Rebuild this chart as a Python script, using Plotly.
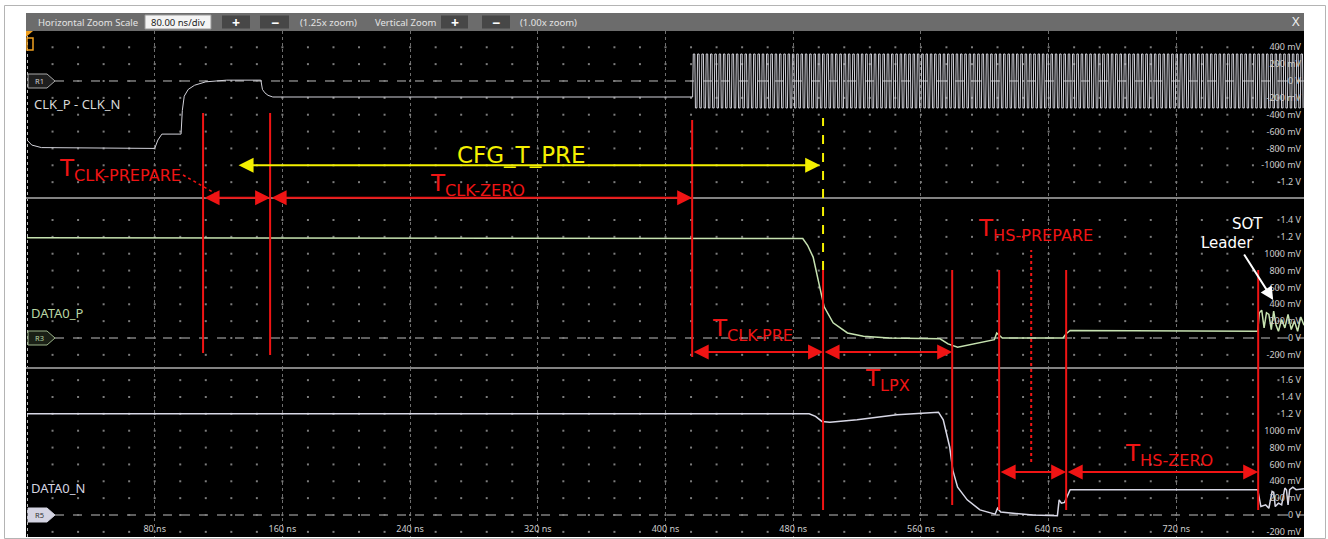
import plotly.graph_objects as go

W, H = 1328, 539

# ---------------- waveform data (time in ns, level in V) ----------------
# CLK_P - CLK_N before the HS clock burst
clk_t = [0, 3, 9, 80, 82, 84.5, 96.5, 97.3, 98.5, 101, 105, 112, 125, 146.5, 147.5, 149, 151, 154, 417]
clk_v = [-0.70, -0.76, -0.79, -0.80, -0.70, -0.63, -0.63, -0.35, -0.18, -0.10, -0.05, -0.01, 0.01, 0.01, -0.10, -0.14, -0.17, -0.19, -0.19]
# HS clock burst on the clock lane
clk_burst_start_ns = 417.0
clk_burst_end_ns = 800.0
clk_period_ns = 2.7
clk_edge_ns = 0.4
clk_high_v = 0.32
clk_low_v = -0.32

# DATA0_P
dp_t = [0, 486, 489, 492.5, 497, 499.4, 505, 514, 524, 540, 572, 577, 583, 595, 606, 607.5, 609, 611, 649, 651, 653.5, 771,
        772, 773.5, 775, 776.5, 778, 779.5, 781, 782.5, 784, 786, 788, 790, 792, 794, 796, 798, 800]
dp_v = [1.19, 1.18, 1.10, 0.96, 0.57, 0.37, 0.18, 0.06, 0.02, 0.0, -0.01, -0.07, -0.11, -0.06, -0.02, 0.06, 0.03, 0.0, 0.0, 0.05, 0.09, 0.08,
        0.30, 0.33, 0.12, 0.30, 0.28, 0.10, 0.32, 0.15, 0.08, 0.22, 0.12, 0.28, 0.10, 0.20, 0.08, 0.25, 0.15]

# DATA0_N
dn_t = [0, 490, 494, 498, 503, 520, 545, 566, 571, 574, 578, 580, 583, 589, 597, 606.5, 608, 610, 630, 645.5, 646.6, 648, 650, 653.5, 771,
        773, 776, 778, 780, 781, 782, 784, 786, 788, 789, 790, 791, 793, 795, 800]
dn_v = [1.20, 1.20, 1.17, 1.11, 1.10, 1.13, 1.19, 1.22, 1.22, 1.13, 0.81, 0.53, 0.33, 0.18, 0.06, 0.01, 0.08, 0.035, 0.0, -0.01, 0.18, 0.14, 0.15, 0.30, 0.30,
        0.10, 0.12, 0.08, 0.28, 0.27, 0.10, 0.14, 0.12, 0.32, 0.30, 0.12, 0.30, 0.33, 0.30, 0.31]

# timing cursors (ns)
t_clk_prepare_start = 110.3
t_clk_prepare_end = 152.3
t_clk_zero_end = 416.7
t_clk_pre_end = 498.7
t_lpx_end = 579.6
t_hs_prepare_start = 609.0
t_hs_prepare_mid = 629.1
t_hs_prepare_end = 651.0
t_hs_zero_end = 771.3
t_cfg_pre_start = 131.6
t_cfg_pre_end = 496.9

# axis ticks
x_ticks = [80, 160, 240, 320, 400, 480, 560, 640, 720]
x_tick_text = ["80 ns", "160 ns", "240 ns", "320 ns", "400 ns", "480 ns", "560 ns", "640 ns", "720 ns"]
clk_ticks = [0.4, 0.2, 0.0, -0.2, -0.4, -0.6, -0.8, -1.0, -1.2]
clk_tick_text = ["400 mV", "200 mV", "0 V", "-200 mV", "-400 mV", "-600 mV", "-800 mV", "-1000 mV", "-1.2 V"]
dp_ticks = [1.4, 1.2, 1.0, 0.8, 0.6, 0.4, 0.2, 0.0, -0.2]
dp_tick_text = ["1.4 V", "1.2 V", "1000 mV", "800 mV", "600 mV", "400 mV", "200 mV", "0 V", "-200 mV"]
dn_ticks = [1.6, 1.4, 1.2, 1.0, 0.8, 0.6, 0.4, 0.2, 0.0, -0.2]
dn_tick_text = ["1.6 V", "1.4 V", "1.2 V", "1000 mV", "800 mV", "600 mV", "400 mV", "200 mV", "0 V", "-200 mV"]


# ---------------- helpers: screen pixels -> paper ----------------
def fx(p):
    return p / W


def fy(p):
    return 1 - p / H


RED = "#f01414"
YEL = "#f4f000"
TICK_FONT = dict(family="Noto Sans", size=9, color="#cccccc")

# build the HS clock burst from its measured period and levels
burst_t = [clk_t[-1]]
burst_v = [clk_v[-1]]
prev = clk_v[-1]
level = clk_high_v
t = clk_burst_start_ns
while t < clk_burst_end_ns:
    burst_t += [t, t + clk_edge_ns]
    burst_v += [prev, level]
    prev = level
    level = clk_low_v if level == clk_high_v else clk_high_v
    t += clk_period_ns / 2
clk_all_t = clk_t + burst_t[1:]
clk_all_v = clk_v + burst_v[1:]

fig = go.Figure()

# graticule dots every 16 ns on each voltage division
dot_x = list(range(16, 800, 16))
for yname, ticks in (("y", clk_ticks), ("y2", dp_ticks), ("y3", dn_ticks)):
    xs, ys = [], []
    for v in ticks:
        for tx in dot_x:
            xs.append(tx)
            ys.append(v)
    fig.add_trace(go.Scatter(x=xs, y=ys, mode="markers", xaxis="x", yaxis=yname,
                             marker=dict(size=2, color="#7c7c7c", symbol="square"),
                             hoverinfo="skip", showlegend=False))

fig.add_trace(go.Scatter(x=clk_all_t, y=clk_all_v, mode="lines", xaxis="x", yaxis="y",
                         line=dict(color="#d2d2da", width=1), hoverinfo="skip", showlegend=False))
fig.add_trace(go.Scatter(x=dp_t, y=dp_v, mode="lines", xaxis="x", yaxis="y2",
                         line=dict(color="#c6e2b0", width=1.5), hoverinfo="skip", showlegend=False))
fig.add_trace(go.Scatter(x=dn_t, y=dn_v, mode="lines", xaxis="x", yaxis="y3",
                         line=dict(color="#d8d8e6", width=1.5), hoverinfo="skip", showlegend=False))

shapes = []
# scope screen background and frame
shapes.append(dict(type="rect", xref="paper", yref="paper", x0=fx(26), x1=fx(1304), y0=fy(537), y1=fy(31),
                   fillcolor="#000000", line=dict(width=0), layer="below"))
shapes.append(dict(type="rect", xref="paper", yref="paper", x0=fx(4.5), x1=fx(1325.5), y0=fy(538.5), y1=fy(5.5),
                   fillcolor="rgba(0,0,0,0)", line=dict(color="#b4b4b4", width=1), layer="below"))
# toolbar
shapes.append(dict(type="rect", xref="paper", yref="paper", x0=fx(26), x1=fx(1304), y0=fy(31), y1=fy(13),
                   fillcolor="#6c6c6c", line=dict(width=0)))
shapes.append(dict(type="rect", xref="paper", yref="paper", x0=fx(145), x1=fx(211), y0=fy(29), y1=fy(15),
                   fillcolor="#f4f4f4", line=dict(color="#9a9a9a", width=1)))
for a, b in ((222, 250), (260, 289), (441, 468), (482, 510)):
    shapes.append(dict(type="rect", xref="paper", yref="paper", x0=fx(a), x1=fx(b), y0=fy(28.5), y1=fy(15.5),
                       fillcolor="#474747", line=dict(width=0)))

# zero-volt reference lines
for yname in ("y", "y2", "y3"):
    shapes.append(dict(type="line", xref="paper", yref=yname, x0=fx(55), x1=fx(1304), y0=0, y1=0,
                       line=dict(color="#bdbdbd", width=1, dash="dash"), layer="below"))
# left screen edge
shapes.append(dict(type="line", xref="paper", yref="paper", x0=fx(27.5), x1=fx(27.5), y0=fy(537), y1=fy(31),
                   line=dict(color="#bcbcbc", width=1, dash="dot"), layer="below"))
# lane separators
for p in (198, 368):
    shapes.append(dict(type="line", xref="paper", yref="paper", x0=fx(26), x1=fx(1304), y0=fy(p), y1=fy(p),
                       line=dict(color="#828282", width=2)))

# trigger marker
shapes.append(dict(type="path", xref="paper", yref="paper",
                   path=f"M{fx(26)},{fy(31)} L{fx(33)},{fy(31)} L{fx(26)},{fy(37)} Z",
                   fillcolor="#f0a020", line=dict(width=0)))
shapes.append(dict(type="rect", xref="paper", yref="paper", x0=fx(27), x1=fx(33), y0=fy(50), y1=fy(38),
                   fillcolor="rgba(0,0,0,0)", line=dict(color="#f0a020", width=1.5)))

# timing cursors
for tt, top, bot in ((t_clk_prepare_start, 113, 353), (t_clk_prepare_end, 113, 355), (t_clk_zero_end, 120, 357),
                     (t_clk_pre_end, 270, 510), (t_lpx_end, 270, 505), (t_hs_prepare_start, 270, 510),
                     (t_hs_prepare_end, 270, 510), (t_hs_zero_end, 270, 510)):
    shapes.append(dict(type="line", xref="x", yref="paper", x0=tt, x1=tt, y0=fy(bot), y1=fy(top),
                       line=dict(color=RED, width=2)))
shapes.append(dict(type="line", xref="x", yref="paper", x0=t_clk_pre_end, x1=t_clk_pre_end, y0=fy(270), y1=fy(118),
                   line=dict(color=YEL, width=2, dash="dash")))
shapes.append(dict(type="line", xref="x", yref="paper", x0=t_hs_prepare_mid, x1=t_hs_prepare_mid, y0=fy(462), y1=fy(250),
                   line=dict(color=RED, width=2, dash="dot")))
shapes.append(dict(type="line", xref="paper", yref="paper", x0=fx(183), x1=fx(218), y0=fy(175), y1=fy(195),
                   line=dict(color=RED, width=1.5, dash="dot")))

# reference tags R1 / R3 / R5
for cy, fill, edge in ((81, "#1e1e1e", "#a8a8a8"), (338, "#1a2016", "#9cb48a"), (515, "#d4d4e2", "#d4d4e2")):
    path = (f"M{fx(28)},{fy(cy - 7)} L{fx(47)},{fy(cy - 7)} L{fx(55)},{fy(cy)} "
            f"L{fx(47)},{fy(cy + 7)} L{fx(28)},{fy(cy + 7)} Z")
    shapes.append(dict(type="path", xref="paper", yref="paper", path=path, fillcolor=fill,
                       line=dict(color=edge, width=1)))

ann = []


def text(px, py, s, size, color, family="Noto Sans", anchor="left"):
    ann.append(dict(x=fx(px), y=fy(py), xref="paper", yref="paper", text=s, showarrow=False,
                    xanchor=anchor, yanchor="middle", font=dict(family=family, size=size, color=color)))


# toolbar text
text(36, 22, "Horizontal Zoom Scale", 9.5, "#e4e4e4")
text(178, 22, "80.00 ns/div", 9.5, "#222222", anchor="center")
text(236, 22, "<b>+</b>", 14, "#ffffff", anchor="center")
text(274.5, 22, "<b>−</b>", 14, "#ffffff", anchor="center")
text(298, 22, "(1.25x zoom)", 9.5, "#e4e4e4")
text(373, 22, "Vertical Zoom", 9.5, "#e4e4e4")
text(454.5, 22, "<b>+</b>", 14, "#ffffff", anchor="center")
text(496, 22, "<b>−</b>", 14, "#ffffff", anchor="center")
text(518, 22, "(1.00x zoom)", 9.5, "#e4e4e4")
text(1296, 21, "X", 13, "#f0f0f0", anchor="center")

# channel names and reference tags
text(32, 104, "CLK_P - CLK_N", 13, "#d8d8d8")
text(29, 313, "DATA0_P", 13, "#b9d6a4")
text(29, 488, "DATA0_N", 13, "#d4d4e0")
text(39, 81, "R1", 7.5, "#d0d0d0", anchor="center")
text(39, 338, "R3", 7.5, "#b9d6a4", anchor="center")
text(39, 515, "R5", 7.5, "#333333", anchor="center")

# timing labels
LBL = "DejaVu Sans"
text(57, 170, "T<sub>CLK-PREPARE</sub>", 23, RED, family=LBL)
text(428, 185, "T<sub>CLK-ZERO</sub>", 23, RED, family=LBL)
text(710, 330, "T<sub>CLK-PRE</sub>", 23, RED, family=LBL)
text(863, 380, "T<sub>LPX</sub>", 23, RED, family=LBL)
text(976, 230, "T<sub>HS-PREPARE</sub>", 23, RED, family=LBL)
text(1123, 455, "T<sub>HS-ZERO</sub>", 23, RED, family=LBL)
text(521, 155, "CFG_T_PRE", 23, YEL, family=LBL, anchor="center")
text(1247, 224, "SOT", 15, "#ffffff", family=LBL, anchor="center")
text(1227, 243, "Leader", 15, "#ffffff", family=LBL, anchor="center")


def span_arrow(t0, t1, yval, yref, color):
    ann.append(dict(x=t1, y=yval, ax=t0, ay=yval, xref="x", yref=yref, axref="x", ayref=yref,
                    text="", showarrow=True, arrowside="end+start", arrowhead=2, startarrowhead=2,
                    arrowsize=1.5, startarrowsize=1.5, arrowwidth=2, arrowcolor=color,
                    standoff=0, startstandoff=0))


span_arrow(t_clk_prepare_start, t_clk_prepare_end, -1.385, "y", RED)
span_arrow(t_clk_prepare_end, t_clk_zero_end, -1.385, "y", RED)
span_arrow(t_cfg_pre_start, t_cfg_pre_end, -1.0, "y", YEL)
span_arrow(t_clk_zero_end, t_clk_pre_end, -0.166, "y2", RED)
span_arrow(t_clk_pre_end, t_lpx_end, -0.166, "y2", RED)
span_arrow(t_hs_prepare_start, t_hs_prepare_end, 0.51, "y3", RED)
span_arrow(t_hs_prepare_end, t_hs_zero_end, 0.51, "y3", RED)

# SOT leader pointer
ann.append(dict(x=780.7, y=0.45, xref="x", yref="y2", ax=-30, ay=-47, axref="pixel", ayref="pixel",
                text="", showarrow=True, arrowhead=2, arrowsize=1.3, arrowwidth=2, arrowcolor="#ffffff",
                standoff=0))

common_y = dict(anchor="x", side="right", ticklabelposition="inside", ticks="", showgrid=False,
                zeroline=False, showline=False, tickfont=TICK_FONT, ticklabeloverflow="allow",
                fixedrange=True)

fig.update_layout(
    width=W, height=H,
    margin=dict(l=0, r=0, t=0, b=0),
    paper_bgcolor="#ffffff",
    plot_bgcolor="rgba(0,0,0,0)",
    showlegend=False,
    xaxis=dict(domain=[fx(27), fx(1304)], range=[0, 800], anchor="y3",
               tickvals=x_ticks, ticktext=x_tick_text, ticklabelposition="inside", ticks="",
               showgrid=True, gridcolor="#6e6e6e", griddash="dot", gridwidth=1,
               zeroline=False, showline=False, tickfont=TICK_FONT, ticklabeloverflow="allow",
               fixedrange=True),
    yaxis=dict(domain=[fy(198), fy(31)], range=[-1.388, 0.593],
               tickvals=clk_ticks, ticktext=clk_tick_text, **common_y),
    yaxis2=dict(domain=[fy(368), fy(198)], range=[-0.356, 1.661],
                tickvals=dp_ticks, ticktext=dp_tick_text, **common_y),
    yaxis3=dict(domain=[fy(537), fy(368)], range=[-0.261, 1.744],
                tickvals=dn_ticks, ticktext=dn_tick_text, **common_y),
    shapes=shapes,
    annotations=ann,
)

fig.write_html("out.html")
